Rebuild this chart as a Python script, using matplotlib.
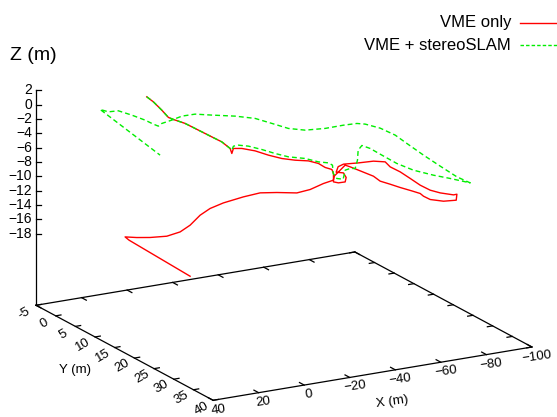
import numpy as np
import matplotlib
matplotlib.use('Agg')
import matplotlib.pyplot as plt
from matplotlib.lines import Line2D

plt.rcParams['font.family'] = ['Liberation Sans', 'DejaVu Sans']

# ---------------- data (X, Y, Z in metres) ----------------
red_x = [-5.22, -7.08, -9.45, -11.32, -12.73, -16.03, -18.85, -22.60, -26.39, -28.73,
         -29.21, -29.66, -32.03, -35.78, -39.54, -43.32, -47.07, -50.83, -53.65, -55.54,
         -57.43, -57.88, -57.88, -59.29, -61.18, -61.46, -60.70, -58.64, -59.21, -60.70,
         -64.94, -69.17, -72.47, -73.88, -76.70, -79.53, -82.35, -85.17, -87.99, -91.75, -92.71,
         -92.51, -88.92, -85.17, -83.28, -82.35, -80.01, -76.70, -73.88, -71.06, -69.17,
         -65.42, -62.59, -61.18, -59.77, -58.08,
         -57.87, -53.56, -47.82, -42.08, -33.45, -26.25, -19.04, -10.41, -4.67, -0.36,
         3.96, 8.27, 14.01, 21.22, 26.96, 32.00, 31.94, 31.10]
red_y = [-3.03, -2.43, -1.66, -1.06, -0.61, 0.45, 1.36, 2.57, 3.79, 4.55,
         4.70, 4.85, 5.61, 6.82, 8.03, 9.25, 10.45, 11.66, 12.57, 13.18,
         13.79, 13.94, 13.94, 14.39, 15.00, 15.09, 14.85, 14.18, 14.36, 14.85,
         16.21, 17.57, 18.64, 19.09, 20.00, 20.91, 21.82, 22.73, 23.64, 24.85, 25.15,
         25.09, 23.94, 22.73, 22.12, 21.82, 21.06, 20.00, 19.09, 18.18, 17.57,
         16.36, 15.45, 15.00, 14.55, 14.00,
         13.94, 13.90, 13.84, 13.78, 13.69, 13.61, 13.53, 13.44, 13.38, 13.34,
         13.29, 13.25, 13.19, 13.11, 13.05, 13.00, 13.98, 29.00]
red_z = [-0.75, -1.37, -2.43, -3.37, -3.59, -4.01, -4.59, -5.37, -6.15, -6.97,
         -7.65, -6.93, -6.83, -7.01, -7.45, -7.76, -7.84, -7.78, -8.02, -8.50,
         -8.70, -9.24, -10.41, -10.49, -10.28, -9.65, -9.04, -9.03, -8.24, -7.82,
         -7.47, -7.05, -7.01, -7.65, -8.23, -9.03, -9.85, -10.43, -10.69, -10.81, -10.68,
         -11.52, -11.81, -11.73, -11.35, -11.01, -10.75, -10.41, -10.07, -9.76, -9.15,
         -8.56, -8.12, -7.94, -8.70, -9.61,
         -10.17, -10.42, -10.97, -11.16, -10.67, -10.36, -10.56, -10.97, -11.46, -12.18,
         -13.36, -14.08, -14.39, -14.21, -13.93, -13.59, -13.76, -14.41]

green_x = [-5.22, -7.08, -9.45, -11.32, -12.73, -16.03, -18.85, -22.60, -26.39, -28.73,
           -29.21, -29.66, -31.07, -33.89, -37.67, -41.43, -45.18, -49.89, -53.65, -56.47,
           -57.60, -57.80, -58.84, -60.62, -61.18, -62.59, -64.00, -64.65, -64.85, -65.90,
           -68.24, -71.06, -75.77, -80.46, -86.10, -90.81, -96.46,
           -92.09, -86.61, -81.13, -75.68, -71.84, -66.91, -61.99, -59.26, -54.86, -48.85,
           -42.29, -36.81, -31.36, -25.87, -19.31, -11.66, -6.17, -1.81, 1.48, 4.76,
           5.88, 7.52, 10.24, 14.61, 19.01, 22.29, 25.02, 25.00]
green_y = [-3.03, -2.43, -1.66, -1.06, -0.61, 0.45, 1.36, 2.57, 3.79, 4.55,
           4.70, 4.85, 5.30, 6.21, 7.43, 8.64, 9.85, 11.36, 12.57, 13.48,
           13.85, 13.91, 14.25, 14.82, 15.00, 15.45, 15.91, 16.12, 16.18, 16.52,
           17.27, 18.18, 19.70, 21.21, 23.03, 24.55, 26.36,
           25.51, 24.44, 23.37, 22.30, 21.55, 20.58, 19.62, 19.09, 18.23, 17.05,
           15.77, 14.69, 13.63, 12.55, 11.27, 9.77, 8.70, 7.85, 7.20, 6.56,
           6.34, 6.02, 5.49, 4.64, 3.77, 3.13, 2.60, 17.84]
green_z = [-0.75, -1.37, -2.43, -3.37, -3.59, -4.01, -4.59, -5.37, -6.15, -6.97,
           -7.19, -6.61, -6.41, -6.43, -6.74, -7.14, -7.45, -7.48, -7.80, -7.82,
           -8.09, -9.24, -9.90, -9.92, -8.64, -8.35, -8.29, -7.10, -5.70, -5.00,
           -5.32, -6.00, -7.10, -7.84, -8.30, -8.56, -8.94,
           -8.12, -6.65, -5.14, -3.54, -2.39, -1.44, -0.90, -0.82, -1.08, -1.56,
           -1.83, -1.62, -0.94, -0.27, 0.02, 0.13, 0.24, -0.06, -0.63, -1.11,
           -1.49, -1.22, -0.67, 0.01, 0.59, 0.43, 0.76, -1.13]

x_ticks = [40, 20, 0, -20, -40, -60, -80, -100]
y_ticks = [-5, 0, 5, 10, 15, 20, 25, 30, 35, 40]
z_ticks = [2, 0, -2, -4, -6, -8, -10, -12, -14, -16, -18]
x_tick_labels = ['40', '20', '0', '\u221220', '\u221240', '\u221260', '\u221280', '\u2212100']
y_tick_labels = ['-5', '0', '5', '10', '15', '20', '25', '30', '35', '40']
z_tick_labels = ['2', '0', '\u22122', '\u22124', '\u22126', '\u22128', '\u221210',
                 '\u221212', '\u221214', '\u221216', '\u221218']
series_labels = ['VME only', 'VME + stereoSLAM']

X_MIN, X_MAX = -100, 40
Y_MIN, Y_MAX = -5, 40
Z_BASE, Z_TOP = -28, 2

W, H = 557, 417
fig = plt.figure(figsize=(W / 100, H / 100), dpi=100)
ax = fig.add_axes([0, 0, 1, 1], projection='3d', proj_type='ortho')
ax.set_axis_off()
ax.computed_zorder = False
ax.view_init(elev=17.43, azim=60.83)
ax.set_box_aspect((1.0, 0.995, 0.6175))

RED = '#ff0000'
GREEN = '#00ee00'
K = 'black'
LW_AX = 0.9

# base frame and z axis
ax.plot([X_MAX, X_MAX, X_MIN, X_MIN, X_MAX], [Y_MIN, Y_MAX, Y_MAX, Y_MIN, Y_MIN],
        [Z_BASE] * 5, color=K, lw=LW_AX, zorder=1, clip_on=False)
ax.plot([X_MAX, X_MAX], [Y_MIN, Y_MIN], [Z_BASE, Z_TOP], color=K, lw=LW_AX,
        zorder=1, clip_on=False)
# ticks
TY, TX = 1.2, 2.3
for xv in x_ticks:
    ax.plot([xv, xv], [Y_MAX, Y_MAX - TY], [Z_BASE, Z_BASE], color=K, lw=LW_AX, clip_on=False)
    ax.plot([xv, xv], [Y_MIN, Y_MIN + TY], [Z_BASE, Z_BASE], color=K, lw=LW_AX, clip_on=False)
for yv in y_ticks:
    ax.plot([X_MAX, X_MAX - TX], [yv, yv], [Z_BASE, Z_BASE], color=K, lw=LW_AX, clip_on=False)
    ax.plot([X_MIN, X_MIN + TX], [yv, yv], [Z_BASE, Z_BASE], color=K, lw=LW_AX, clip_on=False)
for zv in z_ticks:
    ax.plot([X_MAX, X_MAX - 1.675], [Y_MIN, Y_MIN + 0.302], [zv, zv], color=K, lw=LW_AX,
            clip_on=False)

# data
ax.plot(red_x, red_y, red_z, color=RED, lw=1.0, zorder=3, clip_on=False)
ax.plot(green_x, green_y, green_z, color=GREEN, lw=1.0, zorder=4, clip_on=False,
        linestyle=(0, (3.5, 2.2)))

ax.set_xlim(X_MIN, X_MAX)
ax.set_ylim(Y_MIN, Y_MAX)
ax.set_zlim(Z_BASE, Z_TOP)

# ---- place the projected box where the reference has it ----
fig.canvas.draw()


def proj2d(xs, ys, zs):
    xs = np.asarray(xs, float)
    ys = np.asarray(ys, float)
    zs = np.asarray(zs, float)
    v = ax.M @ np.vstack([xs, ys, zs, np.ones_like(xs)])
    return v[0] / v[3], v[1] / v[3]


def disp(xs, ys, zs):
    px, py = proj2d(xs, ys, zs)
    return ax.transData.transform(np.column_stack([px, py]))


corners = np.array([[X_MAX, Y_MIN, Z_BASE], [X_MAX, Y_MAX, Z_BASE], [X_MIN, Y_MAX, Z_BASE],
                    [X_MIN, Y_MIN, Z_BASE], [X_MAX, Y_MIN, Z_TOP]], float)
target_img = np.array([[36, 305], [213.3, 400.7], [531.7, 346.7], [355, 252.3], [36, 90]])
target = np.column_stack([target_img[:, 0], H - target_img[:, 1]])
cur = disp(*corners.T)
cm, tm = cur.mean(0), target.mean(0)
s = np.sum((cur - cm) * (target - tm)) / np.sum((cur - cm) ** 2)
T = tm - s * cm
pos = ax.get_position()
l, b, w, h = pos.x0 * W, pos.y0 * H, pos.width * W, pos.height * H
ax.set_position([(T[0] + s * l) / W, (T[1] + s * b) / H, s * w / W, s * h / H])
fig.canvas.draw()


def put(xd, yd, dx, dy, txt, **kw):
    fig.text((xd + dx) / W, (yd - dy) / H, txt, **kw)


# tick labels
pts = disp(x_ticks, [Y_MAX] * len(x_ticks), [Z_BASE] * len(x_ticks))
for (xd, yd), lab in zip(pts, x_tick_labels):
    put(xd, yd, 5, 9.5, lab, ha='center', va='center', fontsize=9.5, rotation=8,
        rotation_mode='anchor')
pts = disp([X_MAX] * len(y_ticks), y_ticks, [Z_BASE] * len(y_ticks))
for (xd, yd), lab in zip(pts, y_tick_labels):
    put(xd, yd, -12, 8, lab, ha='center', va='center', fontsize=9.5, rotation=30,
        rotation_mode='anchor')
pts = disp([X_MAX] * len(z_ticks), [Y_MIN] * len(z_ticks), z_ticks)
for (xd, yd), lab in zip(pts, z_tick_labels):
    put(xd, yd, -4, 0, lab, ha='right', va='center', fontsize=10)

# axis labels
fig.text(391.7 / W, 1 - 401.7 / H, 'X (m)', ha='center', va='center', fontsize=9.5,
         rotation=8, rotation_mode='anchor')
fig.text(75 / W, 1 - 370 / H, 'Y (m)', ha='center', va='center', fontsize=9.5)
fig.text(10 / W, 1 - 60 / H, 'Z (m)', ha='left', va='baseline', fontsize=14)

# legend
fig.text(511 / W, 1 - 27.3 / H, series_labels[0], ha='right', va='baseline', fontsize=12)
fig.text(511 / W, 1 - 50 / H, series_labels[1], ha='right', va='baseline', fontsize=12)
fig.add_artist(Line2D([520 / W, 1.0], [1 - 22.7 / H] * 2, color=RED, lw=1.0,
                      transform=fig.transFigure))
fig.add_artist(Line2D([520 / W, 1.0], [1 - 45 / H] * 2, color=GREEN, lw=1.0,
                      linestyle=(0, (2.5, 1.5)), transform=fig.transFigure))

fig.savefig('out.png', dpi=100)
